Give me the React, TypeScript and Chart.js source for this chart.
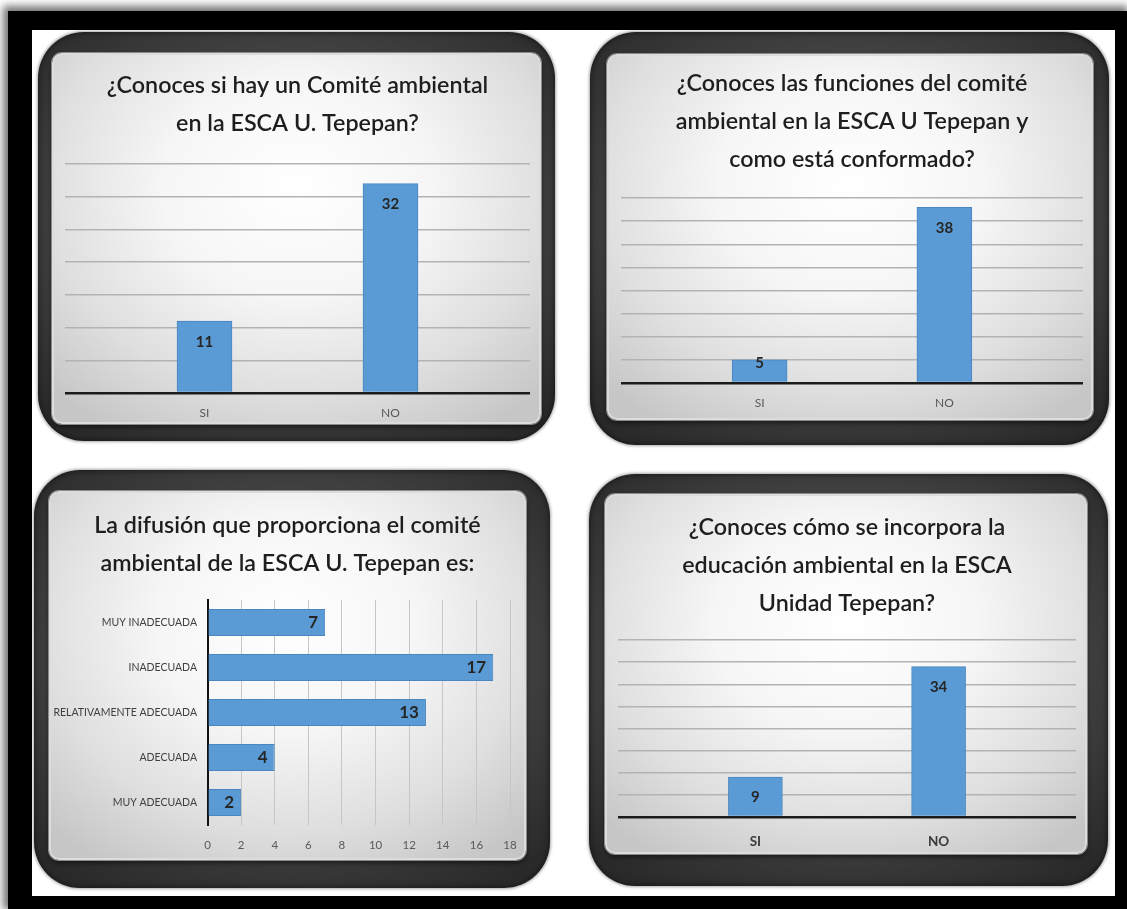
import React, { useEffect, useRef } from 'react';
import { Chart, registerables } from 'chart.js';

Chart.register(...registerables);

// ---------- data ----------
const q1Title = ['¿Conoces si hay un Comité ambiental', 'en la ESCA U. Tepepan?'];
const q1Categories = ['SI', 'NO'];
const q1Values = [11, 32];
const q1AxisMax = 35;
const q1AxisStep = 5;

const q2Title = ['¿Conoces las funciones del comité', 'ambiental en la ESCA U Tepepan y', 'como está conformado?'];
const q2Categories = ['SI', 'NO'];
const q2Values = [5, 38];
const q2AxisMax = 40;
const q2AxisStep = 5;

const q3Title = ['La difusión que proporciona el comité', 'ambiental de la ESCA U. Tepepan es:'];
const q3Categories = ['MUY INADECUADA', 'INADECUADA', 'RELATIVAMENTE ADECUADA', 'ADECUADA', 'MUY ADECUADA'];
const q3Values = [7, 17, 13, 4, 2];
const q3Ticks = [0, 2, 4, 6, 8, 10, 12, 14, 16, 18];

const q4Title = ['¿Conoces cómo se incorpora la', 'educación ambiental en la ESCA', 'Unidad Tepepan?'];
const q4Categories = ['SI', 'NO'];
const q4Values = [9, 34];
const q4AxisMax = 40;
const q4AxisStep = 5;

// ---------- styles ----------
const FONT = 'Lato, "Open Sans", "DejaVu Sans", sans-serif';
const BAR_FILL = '#5B9BD5';
const BAR_EDGE = '#4A86C0';
const TITLE_COLOR = '#1e1e1e';
const TITLE_LH = 38;
const TITLE_SIZE = 23.3;
const TITLE_WEIGHT = '600';

type Box = { x: number; y: number; w: number; h: number };

const valueLabels = {
  id: 'valueLabels',
  afterDatasetsDraw(chart: any, _args: any, opts: any) {
    const { ctx } = chart;
    const meta = chart.getDatasetMeta(0);
    ctx.save();
    ctx.font = opts.font;
    ctx.fillStyle = opts.color;
    ctx.textBaseline = 'middle';
    meta.data.forEach((el: any, i: number) => {
      const parsed = meta.controller.getParsed(i);
      const v = opts.horizontal ? parsed.x : parsed.y;
      const p = el.getProps(['x', 'y', 'base'], true);
      if (opts.horizontal) {
        ctx.textAlign = 'right';
        ctx.fillText(String(v), p.x - opts.inset, p.y);
      } else {
        const hgt = p.base - p.y;
        ctx.textAlign = 'center';
        ctx.fillText(String(v), p.x, p.y + Math.min(opts.inset, hgt - opts.minGap));
      }
    });
    ctx.restore();
  },
};

type ColOpts = {
  title: string[];
  cats: string[];
  values: number[];
  max: number;
  step: number;
  box: Box;
  padL: number;
  padR: number;
  firstLine: number;
  plotTop: number;
  baseline: number;
  labelCenter: number;
  catFontSize: number;
  catBold: boolean;
  catColor: string;
  barThickness: number;
};

function columnConfig(o: ColOpts): any {
  const padTop = o.firstLine - TITLE_LH / 2;
  const padBottom = o.plotTop - padTop - TITLE_LH * o.title.length;
  const catLH = o.catFontSize * 1.2;
  return {
    type: 'bar',
    data: {
      datasets: [
        {
          data: o.values.map((v, i) => ({ x: i, y: v })),
          backgroundColor: BAR_FILL,
          borderColor: BAR_EDGE,
          borderWidth: 1,
          barThickness: o.barThickness,
        },
      ],
    },
    options: {
      responsive: false,
      animation: false,
      events: [],
      layout: { padding: { left: o.padL, right: o.padR, top: 0, bottom: 0 } },
      plugins: {
        legend: { display: false },
        tooltip: { enabled: false },
        title: {
          display: true,
          text: o.title,
          color: TITLE_COLOR,
          font: { family: FONT, size: TITLE_SIZE, weight: TITLE_WEIGHT, lineHeight: TITLE_LH + 'px' },
          padding: { top: padTop, bottom: padBottom },
        },
        valueLabels: { font: `bold 15px ${FONT}`, color: '#262626', inset: 21, minGap: 19 },
      },
      scales: {
        x: {
          type: 'linear',
          offset: false,
          bounds: 'data',
          min: -0.75,
          max: o.cats.length - 0.25,
          afterBuildTicks: (s: any) => {
            s.ticks = o.cats.map((_, i) => ({ value: i }));
          },
          afterFit: (s: any) => {
            s.height = o.box.h - o.baseline;
            s.paddingLeft = 0;
            s.paddingRight = 0;
          },
          grid: { display: false, drawTicks: false, offset: false },
          border: { display: false },
          ticks: {
            callback: (v: any) => o.cats[v] ?? '',
            color: o.catColor,
            font: { family: FONT, size: o.catFontSize, weight: o.catBold ? 'bold' : 'normal' },
            padding: o.labelCenter - o.baseline - catLH / 2,
            maxRotation: 0,
            autoSkip: false,
          },
        },
        y: {
          min: 0,
          max: o.max,
          ticks: { display: false, stepSize: o.step },
          grid: {
            drawTicks: false,
            color: (c: any) => (c.tick && c.tick.value === 0 ? '#1b1b1b' : '#b3b3b3'),
            lineWidth: (c: any) => (c.tick && c.tick.value === 0 ? 2.5 : 1.4),
          },
          border: { display: false },
        },
      },
    },
    plugins: [valueLabels],
  };
}

// ---------- layout boxes (page coordinates) ----------
const frame1: Box = { x: 38, y: 32, w: 517, h: 409 };
const inner1: Box = { x: 52, y: 53, w: 489, h: 371 };
const frame2: Box = { x: 590, y: 32, w: 519, h: 413 };
const inner2: Box = { x: 607, y: 54, w: 486, h: 366 };
const frame3: Box = { x: 34, y: 470, w: 516, h: 418 };
const inner3: Box = { x: 49, y: 491, w: 477, h: 369 };
const frame4: Box = { x: 589, y: 474, w: 519, h: 412 };
const inner4: Box = { x: 605, y: 494, w: 482, h: 360 };

function config1() {
  return columnConfig({
    title: q1Title, cats: q1Categories, values: q1Values, max: q1AxisMax, step: q1AxisStep,
    box: inner1, padL: 65 - inner1.x, padR: inner1.x + inner1.w - 530,
    firstLine: 85 - inner1.y, plotTop: 164 - inner1.y, baseline: 393 - inner1.y, labelCenter: 413 - inner1.y,
    catFontSize: 12, catBold: false, catColor: '#595959', barThickness: 55,
  });
}
function config2() {
  return columnConfig({
    title: q2Title, cats: q2Categories, values: q2Values, max: q2AxisMax, step: q2AxisStep,
    box: inner2, padL: 621 - inner2.x, padR: inner2.x + inner2.w - 1083,
    firstLine: 83 - inner2.y, plotTop: 198 - inner2.y, baseline: 383 - inner2.y, labelCenter: 403 - inner2.y,
    catFontSize: 12, catBold: false, catColor: '#595959', barThickness: 55,
  });
}
function config4() {
  return columnConfig({
    title: q4Title, cats: q4Categories, values: q4Values, max: q4AxisMax, step: q4AxisStep,
    box: inner4, padL: 618 - inner4.x, padR: inner4.x + inner4.w - 1076,
    firstLine: 527 - inner4.y, plotTop: 640 - inner4.y, baseline: 817 - inner4.y, labelCenter: 842 - inner4.y,
    catFontSize: 13.5, catBold: true, catColor: '#3a3a3a', barThickness: 54,
  });
}
function config3(): any {
  const box = inner3;
  const firstLine = 525 - box.y;
  const plotTop = 600 - box.y;
  const plotBottom = 825 - box.y;
  const plotLeft = 207.5 - box.x;
  const plotRight = 510 - box.x;
  const rightGap = box.w - plotRight;
  const padTop = firstLine - TITLE_LH / 2;
  const padBottom = plotTop - padTop - TITLE_LH * q3Title.length;
  const tickLH = 11.5 * 1.2;
  return {
    type: 'bar',
    data: {
      labels: q3Categories,
      datasets: [
        {
          data: q3Values,
          backgroundColor: BAR_FILL,
          borderColor: BAR_EDGE,
          borderWidth: 1,
          barPercentage: 0.6,
          categoryPercentage: 1,
        },
      ],
    },
    options: {
      indexAxis: 'y',
      responsive: false,
      animation: false,
      events: [],
      layout: { padding: { left: 0, right: 0, top: 0, bottom: 0 } },
      plugins: {
        legend: { display: false },
        tooltip: { enabled: false },
        title: {
          display: true,
          text: q3Title,
          color: TITLE_COLOR,
          font: { family: FONT, size: TITLE_SIZE, weight: TITLE_WEIGHT, lineHeight: TITLE_LH + 'px' },
          padding: { top: padTop, bottom: padBottom },
        },
        valueLabels: { font: `bold 17px ${FONT}`, color: '#262626', inset: 7, horizontal: true },
      },
      scales: {
        x: {
          min: q3Ticks[0],
          max: q3Ticks[q3Ticks.length - 1],
          afterBuildTicks: (s: any) => {
            s.ticks = q3Ticks.map((v) => ({ value: v }));
          },
          afterFit: (s: any) => {
            s.height = box.h - plotBottom;
            s.paddingLeft = 0;
            s.paddingRight = 0;
          },
          ticks: {
            color: '#595959',
            font: { family: FONT, size: 11.5 },
            padding: 845 - 825 - tickLH / 2,
            maxRotation: 0,
            autoSkip: false,
          },
          grid: {
            drawTicks: false,
            color: (c: any) => (c.tick && c.tick.value === 0 ? '#111111' : '#c6c6c6'),
            lineWidth: (c: any) => (c.tick && c.tick.value === 0 ? 2 : 1),
          },
          border: { display: false },
        },
        y: {
          afterFit: (s: any) => {
            s.width = plotLeft;
          },
          grid: { display: true, drawTicks: false, color: 'rgba(0,0,0,0)' },
          border: { display: true, color: '#111111', width: 2 },
          ticks: {
            color: '#404040',
            font: { family: FONT, size: 10.5 },
            padding: 10.5,
            autoSkip: false,
          },
        },
        yRight: {
          axis: 'y',
          type: 'linear',
          position: 'right',
          afterFit: (s: any) => {
            s.width = rightGap;
          },
          ticks: { display: false },
          grid: { display: false, drawTicks: false },
          border: { display: false },
        },
      },
    },
    plugins: [valueLabels],
  };
}

function ChartCanvas({ box, make }: { box: Box; make: () => any }) {
  const ref = useRef<HTMLCanvasElement | null>(null);
  useEffect(() => {
    if (!ref.current) return;
    const chart = new Chart(ref.current, make());
    return () => chart.destroy();
  }, []);
  return (
    <canvas
      ref={ref}
      width={box.w}
      height={box.h}
      style={{ position: 'absolute', left: box.x, top: box.y, width: box.w, height: box.h }}
    />
  );
}

function Panel({ frame, inner, make }: { frame: Box; inner: Box; make: () => any }) {
  return (
    <>
      <div
        style={{
          position: 'absolute',
          left: frame.x,
          top: frame.y,
          width: frame.w,
          height: frame.h,
          borderRadius: 46,
          background: 'radial-gradient(ellipse 70% 65% at 50% 45%, #5a5a5a 0%, #454545 55%, #2a2a2a 100%)',
          boxShadow: '0 0 3px 1px rgba(0,0,0,0.35), inset 0 0 6px rgba(0,0,0,0.6)',
        }}
      />
      <div
        style={{
          position: 'absolute',
          left: inner.x,
          top: inner.y,
          width: inner.w,
          height: inner.h,
          boxSizing: 'border-box',
          borderRadius: 10,
          border: '2px solid #dcdcdc',
          background:
            'radial-gradient(ellipse 72% 78% at 50% 36%, #ffffff 0%, #f6f6f6 38%, #dfdfdf 72%, #c6c6c6 100%)',
          boxShadow: '0 0 0 1px #8a8a8a, 0 3px 5px rgba(0,0,0,0.55)',
        }}
      />
      <ChartCanvas box={inner} make={make} />
    </>
  );
}

export default function App() {
  return (
    <div
      style={{
        position: 'fixed',
        left: 0,
        top: 0,
        width: 1127,
        height: 909,
        background: '#ffffff',
        overflow: 'hidden',
        fontFamily: FONT,
      }}
    >
      <div
        style={{
          position: 'absolute',
          left: 8,
          top: 11,
          width: 1119,
          height: 898,
          boxSizing: 'border-box',
          borderStyle: 'solid',
          borderColor: '#000000',
          borderLeftWidth: 24,
          borderTopWidth: 19,
          borderRightWidth: 12,
          borderBottomWidth: 13,
          boxShadow: '-2px -2px 8px 3px rgba(0,0,0,0.55)',
        }}
      />
      <Panel frame={frame1} inner={inner1} make={config1} />
      <Panel frame={frame2} inner={inner2} make={config2} />
      <Panel frame={frame3} inner={inner3} make={config3} />
      <Panel frame={frame4} inner={inner4} make={config4} />
    </div>
  );
}
